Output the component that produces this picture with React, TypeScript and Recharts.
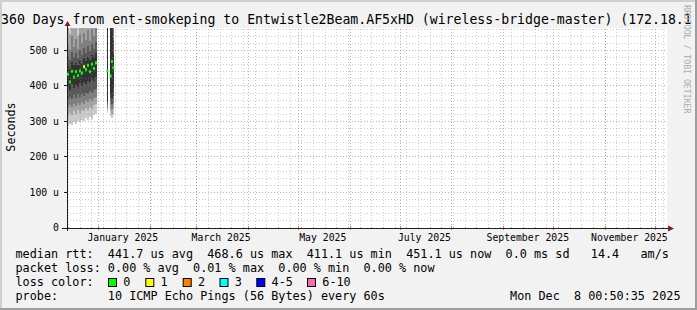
import React from 'react';
import { ComposedChart, Area, Scatter, XAxis, YAxis, ReferenceLine, CartesianGrid } from 'recharts';

// ---- time base: 360 days ending Mon Dec 8 2025 00:50 ----
const START = Date.UTC(2024, 11, 13, 0, 50);
const DAY = 86400000;
const dayOf = (y: number, m: number, d: number, h = 0) => (Date.UTC(y, m - 1, d, h) - START) / DAY;
const U_PER_PX = 563 / 200;

// consolidated columns: start (days after window start) and length (days)
const colStart = [0, 1.2, 2.4, 3.6, 4.8, 6.0, 7.2, 8.4, 9.6, 10.8, 12.0, 13.2, 14.4, 15.6, 16.8, 24.0, 25.8, 26.6, 27.4];
const colDays = [1.2, 1.2, 1.2, 1.2, 1.2, 1.2, 1.2, 1.2, 1.2, 1.2, 1.2, 1.2, 1.2, 1.2, 1.2, 0.6, 0.8, 0.8, 0.8];

// sorted ping round-trip times per column (microseconds)
const ping1 = [286, 294, 290, 299, 293, 302, 297, 305, 300, 309, 304, 313, 308, 318, 322, 323, 315, 309, 318];
const ping2 = [316, 324, 319, 328, 322, 331, 325, 333, 328, 337, 332, 341, 336, 345, 348, 331, 330, 322, 334];
const ping3 = [339, 347, 341, 350, 344, 353, 347, 355, 350, 359, 354, 362, 357, 366, 369, 340, 346, 336, 352];
const ping4 = [361, 370, 363, 373, 366, 376, 369, 378, 372, 381, 376, 385, 379, 388, 391, 349, 362, 350, 372];
const ping5 = [396, 388, 404, 395, 402, 398, 407, 401, 412, 406, 415, 410, 419, 414, 424, 358, 380, 366, 395];
const ping6 = [456, 448, 466, 459, 465, 458, 470, 463, 478, 470, 482, 474, 488, 480, 492, 610, 590, 640, 490];
const ping7 = [484, 474, 496, 482, 492, 478, 500, 488, 506, 494, 512, 498, 518, 504, 524, 700, 680, 720, 530];
const ping8 = [515, 500, 540, 510, 532, 505, 545, 520, 550, 530, 556, 525, 560, 540, 565, 800, 780, 820, 590];
const ping9 = [580, 545, 630, 560, 610, 540, 650, 575, 670, 600, 700, 570, 720, 620, 740, 900, 880, 920, 700];
const ping10 = [860, 820, 960, 880, 940, 850, 1000, 910, 1050, 930, 1100, 900, 1150, 990, 1200, 1200, 1150, 1250, 1000];
const median = [433, 411.1, 441, 425, 440, 429, 442, 436, 454, 446, 458, 440, 461, 449, 465, 442, 428, 468.6, 451.1];
const loss = [0, 0, 0, 0, 0, 0, 0, 0, 1, 0, 0, 0, 0, 0, 0, 0, 0, 0, 0];

// axis / legend text
const yTicks = [0, 100, 200, 300, 400, 500];
const monthLabels = ['January 2025', 'March 2025', 'May 2025', 'July 2025', 'September 2025', 'November 2025'];
const labelMonths = [1, 3, 5, 7, 9, 11];
const lossLabels = ['0', '1', '2', '3', '4-5', '6-10'];
const lossColors = ['#00ff00', '#ffff00', '#ff8000', '#00ffff', '#0000ff', '#ff69b4'];
const smokeColors = ['#cacaca', '#a4a4a4', '#7e7e7e', '#585858', '#323232'];

const titleText = '360 Days from ent-smokeping to Entwistle2Beam.AF5xHD (wireless-bridge-master) (172.18.1';
const rttLine = 'median rtt:  441.7 us avg  468.6 us max  411.1 us min  451.1 us now  0.0 ms sd   14.4   am/s';
const lossLine = 'packet loss: 0.00 % avg  0.01 % max  0.00 % min  0.00 % now';
const probeLine = 'probe:       10 ICMP Echo Pings (56 Bytes) every 60s';
const dateText = 'Mon Dec  8 00:50:35 2025';

// ---- build table for smoke bands ----
const bandKeys = ['b1', 'b2', 'b3', 'b4', 'b5'];
const rows: any[] = [];
colStart.forEach((s, i) => {
  const bands: any = {
    b1: [ping1[i], ping10[i]],
    b2: [ping2[i], ping9[i]],
    b3: [ping3[i], ping8[i]],
    b4: [ping4[i], ping7[i]],
    b5: [ping5[i], ping6[i]],
  };
  rows.push({ t: s, ...bands });
  const end = s + colDays[i];
  const next = colStart[i + 1];
  if (next === undefined || Math.abs(next - end) > 1e-6) {
    rows.push({ t: end, ...bands });
    if (next !== undefined) rows.push({ t: end, b1: null, b2: null, b3: null, b4: null, b5: null });
  }
});
const medPoints = colStart.map((s, i) => ({ t: s + colDays[i] / 2, med: median[i], loss: loss[i] }));

// grid positions
const monthStarts: number[] = [];
for (let m = 1; m <= 12; m++) monthStarts.push(dayOf(2025, m, 1));
const weekLines: number[] = [];
for (let d = dayOf(2024, 12, 14); d < 360; d += 7) weekLines.push(d);
const minorY: number[] = [];
for (let v = 20; v < 563; v += 20) if (v % 100 !== 0) minorY.push(v);
const majorY = [100, 200, 300, 400, 500];
const labelTicks = labelMonths.map((m) => dayOf(2025, m, 15, 12));

const FONT = 'DejaVu Sans Mono';
const LFS = 11.8;
const legendBoxX = [108, 145.3, 182.7, 219.5, 256.3, 307];

const MINOR = '#8f8f8f';
const MAJOR = '#de4f4f';

export default function App() {
  return (
    <div style={{ position: 'absolute', left: 0, top: 0, width: 697, height: 310, background: '#f2f2f2', overflow: 'hidden', fontFamily: FONT }}>
      <style>{`.recharts-reference-line line, .recharts-cartesian-axis-line, .recharts-cartesian-axis-tick-line { shape-rendering: crispEdges; } .recharts-area-area { shape-rendering: crispEdges; }`}</style>
      <div style={{ position: 'absolute', left: 0, top: 0 }}>
        <ComposedChart width={697} height={310} data={rows} margin={{ top: 28, right: 30, bottom: 52, left: 7 }}>
          <CartesianGrid fill="#ffffff" fillOpacity={1} stroke="none" />
          <XAxis
            dataKey="t"
            type="number"
            domain={[0, 360]}
            ticks={labelTicks}
            interval={0}
            tickFormatter={(_v: any, i: number) => monthLabels[i]}
            tick={{ fontSize: 9.8, fontFamily: FONT, fill: '#000' }}
            tickLine={false}
            tickSize={2}
            tickMargin={4}
            height={30}
            axisLine={{ stroke: '#1f1f1f' }}
          />
          <YAxis
            type="number"
            domain={[0, 563]}
            allowDataOverflow
            ticks={yTicks}
            interval={0}
            width={60}
            tickFormatter={(v: number) => (v === 0 ? '0' : `${v} u`)}
            tick={{ fontSize: 9.8, fontFamily: FONT, fill: '#000' }}
            tickLine={{ stroke: '#1f1f1f' }}
            tickSize={3}
            tickMargin={5}
            axisLine={{ stroke: '#1f1f1f' }}
          />
          {bandKeys.map((k, i) => (
            <Area
              key={k}
              dataKey={k}
              type="stepAfter"
              stroke="none"
              fill={smokeColors[i]}
              fillOpacity={1}
              isAnimationActive={false}
              activeDot={false}
              dot={false}
            />
          ))}
          <Scatter
            data={medPoints}
            dataKey="med"
            isAnimationActive={false}
            shape={(p: any) => (
              <rect x={p.cx - 1} y={p.cy - 1.5} width={2} height={3} fill={lossColors[p.payload.loss]} />
            )}
          />
          {weekLines.map((d) => (
            <ReferenceLine key={'w' + d} x={d} stroke={MINOR} strokeOpacity={0.45} strokeDasharray="1 2" />
          ))}
          {minorY.map((v) => (
            <ReferenceLine key={'y' + v} y={v} stroke={MINOR} strokeOpacity={0.45} strokeDasharray="1 2" />
          ))}
          {monthStarts.map((d) => (
            <ReferenceLine key={'m' + d} x={d} stroke={MAJOR} strokeOpacity={0.55} strokeDasharray="1 2" />
          ))}
          {majorY.map((v) => (
            <ReferenceLine key={'Y' + v} y={v} stroke={MAJOR} strokeOpacity={0.55} strokeDasharray="1 2" />
          ))}
          {weekLines.map((d) => (
            <ReferenceLine key={'wt' + d} ifOverflow="visible" segment={[{ x: d, y: -1 * U_PER_PX }, { x: d, y: 1 * U_PER_PX }]} stroke={MINOR} strokeOpacity={0.6} />
          ))}
          {monthStarts.map((d) => (
            <ReferenceLine key={'mt' + d} ifOverflow="visible" segment={[{ x: d, y: -2 * U_PER_PX }, { x: d, y: 2 * U_PER_PX }]} stroke={MAJOR} strokeOpacity={0.8} />
          ))}
        </ComposedChart>
      </div>
      <svg width={697} height={310} style={{ position: 'absolute', left: 0, top: 0, pointerEvents: 'none' }}>
        {/* frame shading */}
        <rect x={0} y={0} width={697} height={2} fill="#cfcfcf" />
        <rect x={0} y={0} width={2} height={310} fill="#cfcfcf" />
        <rect x={0} y={308} width={697} height={2} fill="#9e9e9e" />
        <rect x={695} y={0} width={2} height={310} fill="#9e9e9e" />
        {/* axis extensions and arrows */}
        <line x1={62} y1={228.5} x2={67} y2={228.5} stroke="#1f1f1f" strokeWidth={1} />
        <line x1={667} y1={228.5} x2={669} y2={228.5} stroke="#1f1f1f" strokeWidth={1} />
        <line x1={67.5} y1={231} x2={67.5} y2={228} stroke="#1f1f1f" strokeWidth={1} />
        <line x1={67.5} y1={28} x2={67.5} y2={25} stroke="#1f1f1f" strokeWidth={1} />
        <polygon points="64.5,26 70.5,26 67.5,21" fill="#801f1f" />
        <polygon points="668,225.5 668,231.5 674,228.5" fill="#801f1f" />
        {/* title */}
        <text x={1} y={24.3} fontFamily={FONT} fontSize={13.2} fill="#000" xmlSpace="preserve" style={{ whiteSpace: 'pre' }}>{titleText}</text>
        {/* y label */}
        <text transform="translate(15,127) rotate(-90)" textAnchor="middle" fontFamily={FONT} fontSize={11.7} fill="#000">Seconds</text>
        {/* watermark */}
        <text transform="translate(683.5,5) rotate(90)" fontFamily={FONT} fontSize={8.2} fill="#ababab">RRDTOOL / TOBI OETIKER</text>
        {/* legend rows */}
        <text x={15.5} y={258.3} fontFamily={FONT} fontSize={LFS} fill="#000" xmlSpace="preserve" style={{ whiteSpace: 'pre' }}>{rttLine}</text>
        <text x={15.5} y={272.3} fontFamily={FONT} fontSize={LFS} fill="#000" xmlSpace="preserve" style={{ whiteSpace: 'pre' }}>{lossLine}</text>
        <text x={15.5} y={286.3} fontFamily={FONT} fontSize={LFS} fill="#000" xmlSpace="preserve" style={{ whiteSpace: 'pre' }}>loss color:</text>
        {lossLabels.map((l, i) => (
          <g key={l}>
            <rect x={legendBoxX[i] + 0.5} y={278.5} width={8} height={8} fill={lossColors[i]} stroke="#000" strokeWidth={1} />
            <text x={legendBoxX[i] + 15.3} y={286.3} fontFamily={FONT} fontSize={LFS} fill="#000">{l}</text>
          </g>
        ))}
        <text x={15.5} y={300.3} fontFamily={FONT} fontSize={LFS} fill="#000" xmlSpace="preserve" style={{ whiteSpace: 'pre' }}>{probeLine}</text>
        <text x={680.5} y={300.3} textAnchor="end" fontFamily={FONT} fontSize={LFS} fill="#000" xmlSpace="preserve" style={{ whiteSpace: 'pre' }}>{dateText}</text>
      </svg>
    </div>
  );
}
